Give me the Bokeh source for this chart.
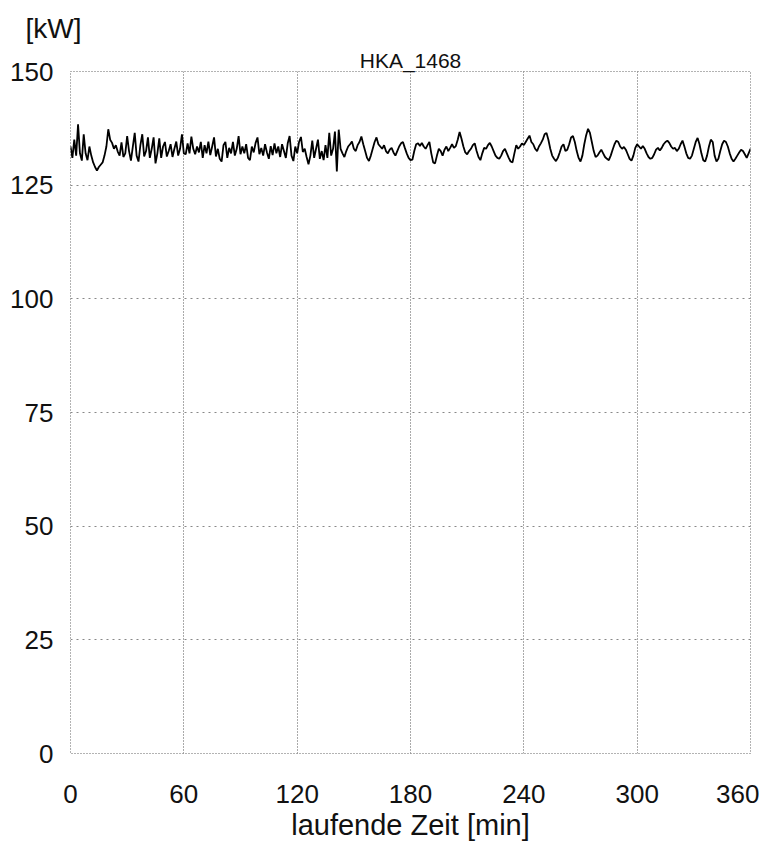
from bokeh.plotting import figure
from bokeh.models import Range1d, FixedTicker, Title
from bokeh.embed import file_html
from bokeh.resources import INLINE

# ---- data -----------------------------------------------------------------
title_text = "HKA_1468"
y_unit = "[kW]"
x_label = "laufende Zeit [min]"
x_ticks = [0, 60, 120, 180, 240, 300, 360]
y_ticks = [0, 25, 50, 75, 100, 125, 150]

power_kw = [
    133.5, 131.0, 135.0, 131.5, 138.4, 132.0, 130.4, 136.2, 132.0, 130.5, 133.5, 131.5, 130.0, 129.0, 128.2, 129.0, 129.5, 130.0, 131.5, 133.5,
    137.3, 135.0, 134.3, 133.0, 133.8, 132.4, 131.5, 134.4, 131.2, 132.0, 135.8, 132.5, 130.4, 133.5, 136.5, 131.5, 130.2, 133.8, 136.2, 131.3,
    132.5, 135.5, 131.0, 133.0, 135.5, 129.8, 132.0, 135.3, 131.0, 133.5, 134.5, 131.3, 132.5, 134.0, 131.2, 133.0, 134.6, 131.5, 133.0, 136.2,
    132.0, 131.8, 134.2, 132.0, 135.7, 133.0, 131.8, 133.5, 132.2, 134.5, 131.0, 133.8, 132.0, 134.6, 131.6, 133.5, 135.5, 131.3, 133.0, 130.8,
    130.2, 133.8, 134.5, 131.0, 133.2, 132.0, 134.5, 131.5, 133.0, 135.8, 131.8, 133.5, 132.0, 134.0, 131.0, 130.5, 133.5, 132.2, 134.3, 135.5,
    131.8, 133.2, 131.5, 134.0, 132.2, 130.8, 133.6, 131.6, 134.2, 132.0, 133.5, 131.2, 134.0, 132.5, 131.0, 134.2, 135.8, 131.5, 130.3, 133.5,
    132.0, 134.5, 135.6, 132.3, 133.0, 131.2, 129.6, 131.5, 134.8, 131.0, 133.0, 135.0, 130.8, 132.5, 130.5, 133.8, 131.0, 136.5, 131.5, 133.0,
    136.8, 128.0, 137.2, 133.0, 132.0, 131.2, 132.5, 133.5, 134.0, 134.6, 133.0, 132.5, 133.8, 134.5, 135.7, 134.0, 132.5, 131.0, 130.3, 131.5,
    133.0, 134.5, 135.5, 134.0, 133.5, 133.0, 133.8, 132.5, 132.0, 132.8, 133.2, 132.2, 131.5, 132.5, 133.5, 134.2, 134.5, 133.2, 132.0, 131.0,
    130.5, 130.6, 132.5, 134.0, 134.2, 133.6, 134.3, 133.5, 133.0, 133.8, 134.5, 132.0, 130.0, 129.8, 131.5, 133.0, 132.5, 131.5, 132.8, 133.5,
    132.5, 133.2, 134.0, 133.2, 133.6, 135.0, 136.7, 135.2, 133.5, 132.2, 131.8, 132.5, 133.0, 133.8, 134.2, 132.5, 131.2, 130.5, 132.0, 133.2,
    133.0, 133.8, 134.3, 133.5, 132.5, 131.5, 131.0, 130.8, 131.5, 132.5, 133.0, 132.0, 131.0, 130.2, 130.0, 132.0, 133.8, 133.0, 133.5, 134.2,
    133.8, 134.5, 135.2, 135.9, 134.5, 134.0, 133.0, 132.5, 133.5, 134.2, 135.0, 136.2, 136.5, 135.0, 133.0, 131.5, 130.8, 130.3, 131.0, 132.2,
    133.5, 134.0, 132.5, 132.8, 134.0, 135.5, 135.8, 134.5, 132.5, 131.0, 130.2, 131.5, 134.0, 136.0, 137.4, 136.5, 134.5, 132.5, 131.2, 131.5,
    132.2, 132.8, 132.0, 131.2, 130.8, 130.5, 131.5, 132.8, 134.0, 134.8, 134.5, 133.5, 133.0, 133.4, 132.8, 131.8, 130.8, 130.4, 131.5, 133.2,
    134.0, 133.5, 133.0, 133.6, 133.0, 132.0, 131.2, 130.8, 131.0, 131.8, 132.8, 133.2, 132.6, 133.2, 134.0, 134.5, 134.8, 134.3, 133.5, 133.0,
    133.2, 132.5, 133.0, 134.0, 134.8, 133.5, 132.0, 131.0, 130.8, 131.5, 133.0, 134.5, 135.4, 134.0, 132.0, 130.5, 130.2, 131.5, 133.5, 135.0,
    134.5, 131.5, 130.2, 130.8, 132.5, 134.0, 134.8, 134.5, 133.5, 132.0, 130.8, 130.2, 130.8, 131.5, 132.2, 132.8, 132.5, 131.8, 131.0, 132.0, 133.0,
]
time_min = list(range(len(power_kw)))

FONT = "Liberation Sans"
TXT = "#111111"

p = figure(
    width=759, height=850,
    output_backend="svg", toolbar_location=None,
    x_range=Range1d(0, 360), y_range=Range1d(0, 150),
    min_border_left=70, min_border_right=9,
    min_border_top=71, min_border_bottom=97,
)
p.background_fill_color = "white"
p.border_fill_color = "white"
p.outline_line_color = "#666666"
p.outline_line_dash = "1 2"
p.outline_line_width = 1

# titles stacked above the frame (first added sits closest to the frame)
p.add_layout(Title(text=title_text, align="center", text_font=FONT,
                   text_font_size="21px", text_font_style="normal",
                   text_color=TXT, standoff=0), "above")
p.add_layout(Title(text=y_unit, align="left", offset=-45, text_font=FONT,
                   text_font_size="28px", text_font_style="normal",
                   text_color=TXT, standoff=6), "above")

# axes
for ax in (p.xaxis, p.yaxis):
    ax.axis_line_color = None
    ax.major_tick_line_color = None
    ax.minor_tick_line_color = None
    ax.major_tick_out = 0
    ax.major_tick_in = 0
    ax.minor_tick_out = 0
    ax.minor_tick_in = 0
    ax.major_label_text_font = FONT
    ax.major_label_text_font_size = "26px"
    ax.major_label_text_color = TXT

p.xaxis.ticker = FixedTicker(ticks=x_ticks)
p.yaxis.ticker = FixedTicker(ticks=y_ticks)
p.xaxis.major_label_standoff = 31
p.yaxis.major_label_standoff = 17
p.xaxis.axis_label = x_label
p.xaxis.axis_label_text_font = FONT
p.xaxis.axis_label_text_font_size = "29px"
p.xaxis.axis_label_text_font_style = "normal"
p.xaxis.axis_label_text_color = TXT
p.xaxis.axis_label_standoff = 3

# grids
p.xgrid.ticker = FixedTicker(ticks=x_ticks)
p.ygrid.ticker = FixedTicker(ticks=y_ticks)
p.xgrid.grid_line_color = "#555555"
p.xgrid.grid_line_dash = "1 2"
p.xgrid.grid_line_width = 1
p.ygrid.grid_line_color = "#888888"
p.ygrid.grid_line_dash = "2 4"
p.ygrid.grid_line_width = 1

# series
p.line(time_min, power_kw, line_color="black", line_width=1.8)

open("out.html", "w").write(file_html(p, INLINE))
